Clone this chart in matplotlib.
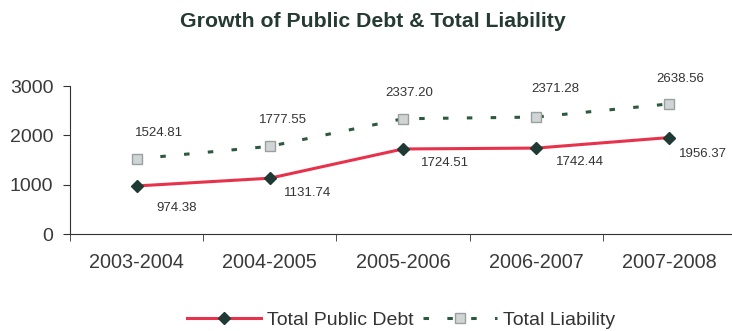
import matplotlib.pyplot as plt
import numpy as np

plt.rcParams['font.family'] = ['Liberation Sans', 'DejaVu Sans']

years = ['2003-2004', '2004-2005', '2005-2006', '2006-2007', '2007-2008']
public_debt = [974.38, 1131.74, 1724.51, 1742.44, 1956.37]
liability = [1524.81, 1777.55, 2337.20, 2371.28, 2638.56]

debt_lbl = ['974.38', '1131.74', '1724.51', '1742.44', '1956.37']
liab_lbl = ['1524.81', '1777.55', '2337.20', '2371.28', '2638.56']

# label offsets in pixels (dx, dy)
debt_off = [(40, -22), (38, -15), (42, -14), (44, -14), (33, -16)]
liab_off = [(22, 26), (13, 26), (6, 26), (19, 28), (11, 25)]

fig = plt.figure(figsize=(7.32, 3.31), dpi=100)
ax = fig.add_axes([0.0956, 0.293, 0.91, 0.447])

x = np.arange(len(years))
ax.plot(x, public_debt, color='#e8324c', lw=2.2, marker='D', ms=6.5,
        mfc='#1f3a34', mec='#1f3a34', label='Total Public Debt')
ax.plot(x, liability, color='#2d5a3e', lw=2.2, ls=(0, (1.8, 6)), marker='s', ms=6.5,
        mfc='#d0d4d4', mec='#9aa0a0', label='Total Liability')

for i in range(len(years)):
    ax.annotate(debt_lbl[i], (x[i], public_debt[i]), xytext=debt_off[i],
                textcoords='offset pixels', ha='center', va='center',
                fontsize=9.5, color='#333333')
    ax.annotate(liab_lbl[i], (x[i], liability[i]), xytext=liab_off[i],
                textcoords='offset pixels', ha='center', va='center',
                fontsize=9.5, color='#333333')

ax.set_xlim(-0.5, 4.5)
ax.set_ylim(0, 3000)
ax.set_yticks([0, 1000, 2000, 3000])
ax.set_xticks(x)
ax.set_xticklabels(years)
ax.set_xticks(np.arange(-0.5, 5, 1), minor=True)
ax.tick_params(axis='x', which='major', length=0, pad=14, labelsize=14.3, labelcolor='#3a3a3a')
ax.tick_params(axis='x', which='minor', length=5, direction='out', color='#333333')
ax.tick_params(axis='y', length=5, labelsize=14, labelcolor='#3a3a3a', color='#333333', pad=7)
for s in ['top', 'right']:
    ax.spines[s].set_visible(False)
ax.spines['left'].set_color('#333333')
ax.spines['bottom'].set_color('#333333')

fig.text(0.51, 0.934, 'Growth of Public Debt & Total Liability', ha='center', va='center',
         fontsize=15.3, fontweight='bold', color='#263a34')

fig.legend(loc='center', bbox_to_anchor=(0.548, 0.032), ncol=2, frameon=False,
           fontsize=14, handlelength=3.8, columnspacing=0.5, handletextpad=0.3,
           labelcolor='#333333')

fig.savefig('out.png', dpi=100)
